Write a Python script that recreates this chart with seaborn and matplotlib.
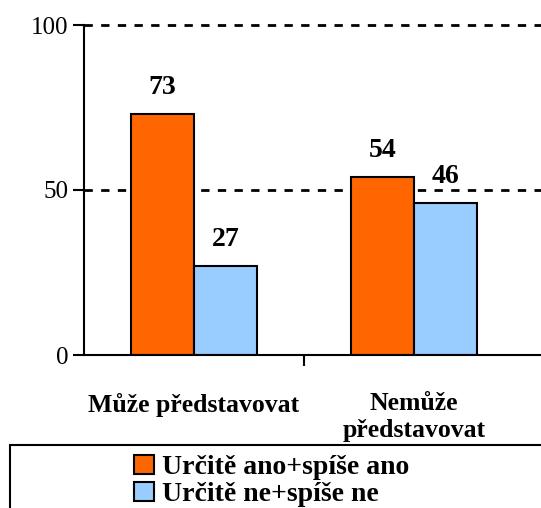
import pandas as pd
import matplotlib
matplotlib.use("Agg")
import matplotlib.pyplot as plt
import seaborn as sns
from matplotlib.patches import Rectangle, Patch

categories = ["Může představovat", "Nemůže\npředstavovat"]
series = ["Určitě ano+spíše ano", "Určitě ne+spíše ne"]
ano = [73, 54]
ne = [27, 46]
colors = ["#FF6600", "#99CCFF"]

df = pd.DataFrame({
    "kategorie": categories * 2,
    "odpoved": [series[0]] * 2 + [series[1]] * 2,
    "hodnota": ano + ne,
})

sns.set_style("white")
plt.rcParams["font.family"] = ["Liberation Serif", "DejaVu Serif"]
plt.rcParams["text.color"] = "black"
plt.rcParams["xtick.color"] = "black"
plt.rcParams["ytick.color"] = "black"

W, H = 541, 508
fig = plt.figure(figsize=(W / 100, H / 100), dpi=100)
ax = fig.add_axes([84 / W, (H - 355) / H, (W - 84) / W, 330 / H])

sns.barplot(data=df, x="kategorie", y="hodnota", hue="odpoved", palette=colors,
            saturation=1, width=0.573, gap=0, edgecolor="black", linewidth=1.5,
            ax=ax, legend=False)

for c in ax.containers:
    ax.bar_label(c, fmt="%d", padding=10, fontsize=20, fontweight="bold", color="black")

ax.set_ylim(0, 100)
ax.set_xlim(-0.5, 1.5 + 17 / 220)
ax.set_yticks([0, 50, 100])
ax.set_yticklabels(["0", "50", "100"], fontsize=18)
for y in [50, 100]:
    ax.axhline(y, color="black", linestyle=(0, (3, 3)), linewidth=2, zorder=0, clip_on=False)

ax.set_xticks([0, 1])
ax.set_xticklabels(categories, fontsize=18.5, fontweight="bold", linespacing=1.18)
ax.tick_params(axis="x", length=0, pad=27)
ax.tick_params(axis="y", length=8, width=1.5, direction="out", left=True, pad=3)
ax.set_xticks([0.5], minor=True)
ax.tick_params(axis="x", which="minor", length=8, width=1.5, direction="out", bottom=True)
ax.set_xlabel("")
ax.set_ylabel("")

for s in ["top", "right"]:
    ax.spines[s].set_visible(False)
for s in ["left", "bottom"]:
    ax.spines[s].set_linewidth(1.5)
    ax.spines[s].set_color("black")

# legend box
fig.patches.append(Rectangle((10 / W, -0.1), 1.0, (H - 445) / H + 0.1,
                             transform=fig.transFigure, fill=False,
                             edgecolor="black", linewidth=1.5, clip_on=False))
handles = [Patch(facecolor=colors[i], edgecolor="black", linewidth=1.5) for i in range(2)]
fig.legend(handles, series, loc="center", bbox_to_anchor=(272 / W, (H - 481) / H),
           frameon=False, prop={"size": 20, "weight": "bold"},
           handlelength=0.7, handleheight=0.7, handletextpad=0.3,
           labelspacing=0.05, borderpad=0)

fig.savefig("out.png", dpi=100)
